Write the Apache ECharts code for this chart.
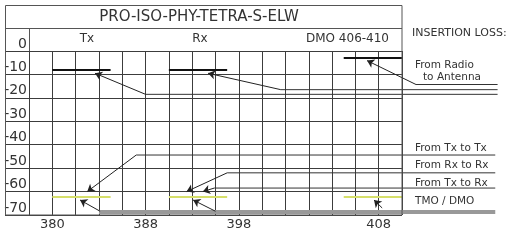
<!DOCTYPE html>
<html>
<head>
<meta charset="utf-8">
<script src="https://cdn.jsdelivr.net/npm/echarts@6/dist/echarts.min.js"></script>
<style>
  html, body { margin: 0; padding: 0; background: #fff; }
  #chart { width: 525px; height: 240px; }
</style>
</head>
<body>
<div id="chart"></div>
<script>
  // x axis is a schematic column grid, only some columns get a MHz label
  var xTickPos = [1, 5, 9, 15];
  var xTickLabels = ['380', '388', '398', '408'];
  var yMin = -70, yMax = 0, yStep = 10;

  var titleText = 'PRO-ISO-PHY-TETRA-S-ELW';
  var bandNames = ['Tx', 'Rx', 'DMO 406-410'];
  var sideTitle = 'INSERTION LOSS:';
  var sideLabels = ['From Radio', 'to Antenna', 'From Tx to Tx', 'From Rx to Rx', 'From Tx to Rx', 'TMO / DMO'];

  // [from column, to column, dB]
  var radioBars = [[1, 3.5, -8], [6, 8.5, -8], [13.5, 16, -2.7]];
  var tmoBars = [[1, 3.5, -62], [6, 8.5, -62], [13.5, 16, -62]];

  // arrow tip, elbow, end of the leader
  var radioArrows = [
    [[2.83, -9.5], [5, -18.5], [20.1, -18.5]],
    [[7.68, -9.5], [10.8, -16.5], [20.1, -16.5]],
    [[14.5, -4.1], [16.6, -14.3], [20.1, -14.3]]
  ];
  var isoArrows = [
    [[2.5, -60], [4.6, -44.4], [20, -44.4]],
    [[6.76, -60], [8.5, -52], [20, -52]],
    [[7.46, -60], [7.95, -58.5], [20, -58.5]]
  ];
  var tmoArrows = [
    [[2.19, -63.6], [3.05, -68.4]],
    [[7.04, -63.6], [8.0, -68.4]],
    [[14.8, -63.6], [15.15, -67]]
  ];
  var tmoBus = [[3, -68.4], [20, -68.4]];

  var GL = 29, GT = 51, GW = 373, GH = 164;
  var lineCol = '#3c3c3c', textCol = '#333';
  var font = 'DejaVu Sans';

  var allArrows = radioArrows.concat(isoArrows).concat(tmoArrows);
  var heads = allArrows.map(function (a) { return { coords: [a[0], a[1]] }; });
  var leaders = allArrows.filter(function (a) { return a.length > 2; })
    .map(function (a) { return { coords: a.slice(1) }; });
  function barData(bars) {
    return bars.map(function (b) { return { coords: [[b[0], b[2]], [b[1], b[2]]] }; });
  }

  function txt(str, x, y, size, align) {
    return {
      type: 'text', z: 10,
      style: {
        text: str, x: x, y: y, fill: textCol,
        font: size + 'px "' + font + '"',
        align: align || 'left', textAlign: align || 'left',
        verticalAlign: 'middle', textVerticalAlign: 'middle'
      }
    };
  }
  function seg(x1, y1, x2, y2) {
    return { type: 'line', z: 10, shape: { x1: x1, y1: y1, x2: x2, y2: y2 },
      style: { stroke: '#555', lineWidth: 1 } };
  }

  var chart = echarts.init(document.getElementById('chart'));
  chart.setOption({
    animation: false,
    textStyle: { fontFamily: font },
    grid: [
      { left: GL, top: GT, width: GW, height: GH },
      { left: 5, top: GT, width: GL - 5, height: GH }
    ],
    xAxis: [{
      type: 'value', gridIndex: 0, min: 0, max: 16, interval: 1,
      axisLine: { show: true, lineStyle: { color: lineCol } },
      axisTick: { show: false },
      splitLine: { show: true, lineStyle: { color: lineCol } },
      axisLabel: {
        color: textCol, fontSize: 13, margin: 3,
        formatter: function (v) {
          var i = xTickPos.indexOf(v);
          return i >= 0 ? xTickLabels[i] : '';
        }
      }
    }, {
      type: 'value', gridIndex: 1, min: 0, max: 1, show: false
    }],
    yAxis: [{
      type: 'value', gridIndex: 0, min: yMin, max: yMax, interval: yStep,
      axisLine: { show: true, lineStyle: { color: lineCol } },
      axisTick: { show: false },
      splitLine: { show: true, lineStyle: { color: lineCol } },
      axisLabel: { color: textCol, fontSize: 14, margin: 2, verticalAlign: 'bottom' }
    }, {
      type: 'value', gridIndex: 1, min: yMin, max: yMax, interval: yStep,
      axisLine: { show: false }, axisTick: { show: false }, axisLabel: { show: false },
      splitLine: { show: true, lineStyle: { color: lineCol } }
    }],
    series: [
      {
        type: 'lines', coordinateSystem: 'cartesian2d', clip: false, z: 5,
        lineStyle: { color: '#d6df6a', width: 2, opacity: 1 },
        data: barData(tmoBars)
      },
      {
        type: 'lines', coordinateSystem: 'cartesian2d', clip: false, z: 5,
        lineStyle: { color: '#999', width: 4, opacity: 1 },
        data: [{ coords: tmoBus }]
      },
      {
        type: 'lines', coordinateSystem: 'cartesian2d', clip: false, z: 6,
        lineStyle: { color: '#111', width: 2, opacity: 1 },
        data: barData(radioBars)
      },
      {
        type: 'lines', coordinateSystem: 'cartesian2d', clip: false, z: 6,
        symbol: ['arrow', 'none'], symbolSize: 7,
        lineStyle: { color: '#222', width: 1, opacity: 1 },
        data: heads
      },
      {
        type: 'lines', coordinateSystem: 'cartesian2d', clip: false, z: 6,
        polyline: true,
        lineStyle: { color: '#333', width: 1, opacity: 1 },
        data: leaders
      }
    ],
    graphic: [
      { type: 'rect', z: 9, shape: { x: 5.5, y: 5.5, width: 396.5, height: 209.5 },
        style: { fill: 'none', stroke: '#555', lineWidth: 1 } },
      seg(5, 28.5, 402, 28.5),
      seg(29.5, 28, 29.5, 51),
      txt(titleText, 199, 17, 15, 'center'),
      txt(bandNames[0], 87, 39, 12, 'center'),
      txt(bandNames[1], 200, 39, 12, 'center'),
      txt(bandNames[2], 389, 39, 12, 'right'),
      txt(sideTitle, 412, 33, 11),
      txt(sideLabels[0], 415, 65, 10.5),
      txt(sideLabels[1], 423, 77, 10.5),
      txt(sideLabels[2], 415, 148, 10.5),
      txt(sideLabels[3], 415, 165, 10.5),
      txt(sideLabels[4], 415, 183, 10.5),
      txt(sideLabels[5], 415, 201, 10.5)
    ]
  });
</script>
</body>
</html>
